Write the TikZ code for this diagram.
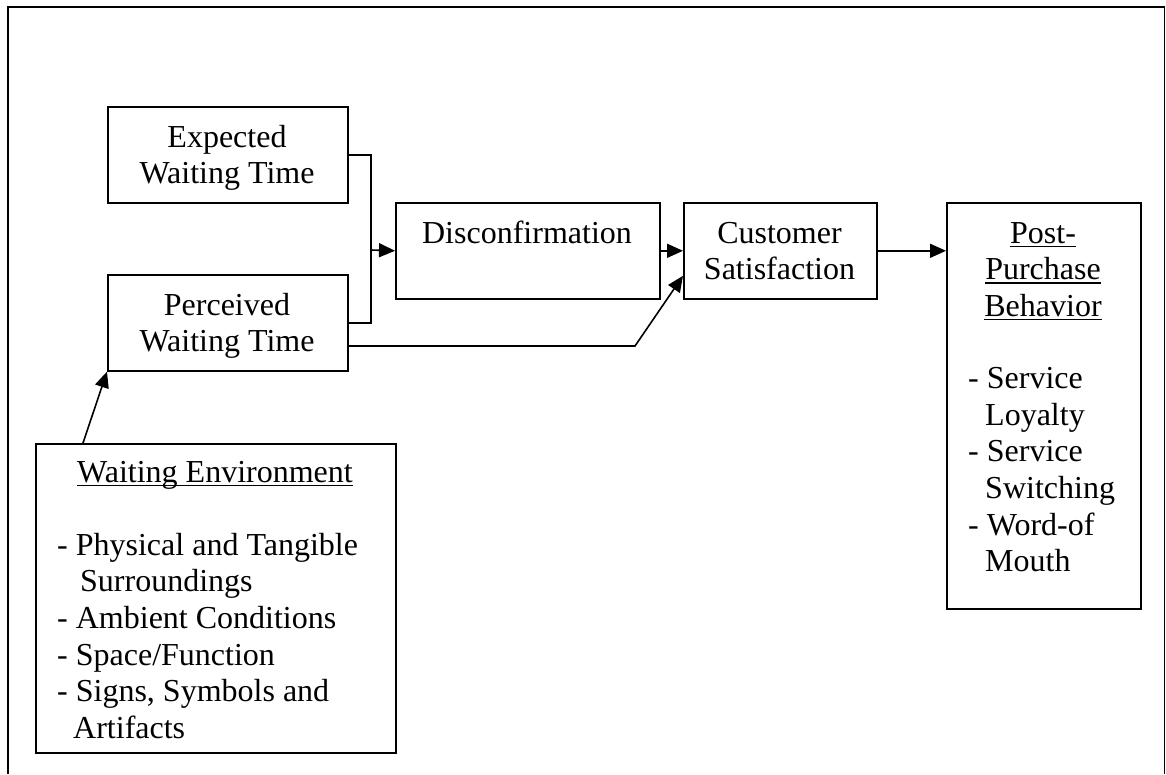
\documentclass[tikz,border=0pt]{standalone}
\usepackage{fontspec}
\setmainfont{Liberation Serif}
\usetikzlibrary{arrows.meta,calc}
% underline at a fixed depth below the baseline
\newcommand\uln[1]{\setbox0\hbox{#1}\rlap{\rule[-3.8pt]{\wd0}{1.5pt}}\box0}
% strut fixing the height of a first line
\newcommand\tstrut{\rule{0pt}{23pt}}
\tikzset{
  frame/.style={draw, line width=1.6pt},
  box/.style={draw, line width=1.6pt, inner sep=0pt, anchor=north west},
  txt/.style={inner sep=0pt, font=\fontsize{32}{36.6}\selectfont, anchor=north, align=center},
  lst/.style={inner sep=0pt, font=\fontsize{32}{36.6}\selectfont, anchor=north west, align=left},
  link/.style={line width=1.6pt},
  conn/.style={line width=1.6pt, -{Triangle[length=16pt,width=14pt]}},
}
\begin{document}
\begin{tikzpicture}[x=1pt,y=-1pt]
\useasboundingbox (0,0) rectangle (1166,774);
% outer frame
\draw[frame] (8,774) -- (8,7) -- (1164.5,7) -- (1164.5,774);

% boxes
\node[box, minimum width=240pt, minimum height=96pt] (exp) at (107,106) {};
\node[box, minimum width=240pt, minimum height=96pt] (perc) at (107,274) {};
\node[box, minimum width=264pt, minimum height=96pt] (dis) at (395,202) {};
\node[box, minimum width=193pt, minimum height=96pt] (cs) at (683,202) {};
\node[box, minimum width=194pt, minimum height=406pt] (ppb) at (946,202) {};
\node[box, minimum width=360pt, minimum height=309pt] (we) at (35,443) {};

% texts
\node[txt] (exptxt) at (227,124) {\tstrut Expected\\Waiting Time};
\node[txt] (perctxt) at (227,292) {\tstrut Perceived\\Waiting Time};
\node[txt] (distxt) at (527,220) {\tstrut Disconfirmation};
\node[txt] (cstxt) at (779.5,220) {\tstrut Customer\\Satisfaction};
\node[txt] (ppbhead) at (1043,220) {\tstrut\uln{Post-}\\\uln{Purchase}\\\uln{Behavior}};
\node[lst] (ppblist) at (968,365.4) {\tstrut - Service\\\hspace*{17pt}Loyalty\\- Service\\\hspace*{17pt}Switching\\- Word-of\\\hspace*{17pt}Mouth};
\node[txt] (wehead) at (215,459) {\tstrut\uln{Waiting Environment}};
\node[lst] (welist) at (57,532) {\tstrut - Physical and Tangible\\\hspace*{23pt}Surroundings\\- Ambient Conditions\\- Space/Function\\- Signs, Symbols and\\\hspace*{16pt}Artifacts};

% connectors
\coordinate (merge) at (371,250);
\coordinate (bend) at (635,346);
\draw[link] (exp.east) -| (merge) |- (perc.east);
\draw[conn] (merge) -- (dis.west);
\draw[conn] (dis.east) -- (cs.west);
\draw[conn] (perc.east |- bend) -- (bend) -- ($(cs.west)+(0,25)$);
\draw[conn] (cs.east) -- (cs.east -| ppb.west);
\draw[conn] ($(we.north west)+(48,0)$) -- (perc.south west);
\end{tikzpicture}
\end{document}
